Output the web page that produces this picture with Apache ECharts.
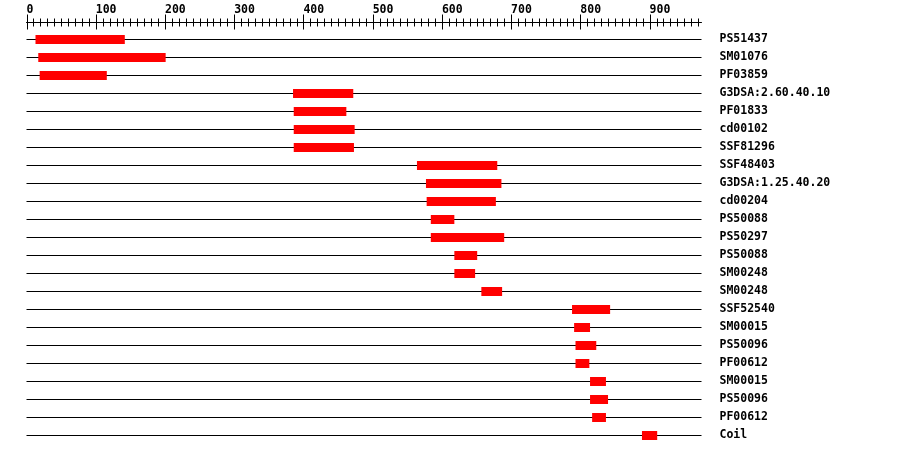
<!DOCTYPE html>
<html>
<head>
<meta charset="utf-8">
<script src="https://cdn.jsdelivr.net/npm/echarts@6/dist/echarts.min.js"></script>
<style>
html, body { margin: 0; padding: 0; background: #fff; }
#chart { width: 900px; height: 454px; }
</style>
</head>
<body>
<div id="chart"></div>
<script>
// sequence length (residues) and ruler labels
var proteinLength = 975;
var tickLabels = [0, 100, 200, 300, 400, 500, 600, 700, 800, 900];

// one row per domain hit
var names = [
  "PS51437", "SM01076", "PF03859", "G3DSA:2.60.40.10", "PF01833", "cd00102",
  "SSF81296", "SSF48403", "G3DSA:1.25.40.20", "cd00204", "PS50088", "PS50297",
  "PS50088", "SM00248", "SM00248", "SSF52540", "SM00015", "PS50096",
  "PF00612", "SM00015", "PS50096", "PF00612", "Coil"
];
var starts = [13, 17, 19, 385, 386, 386, 386, 564, 577, 578, 584, 584, 618, 618, 657, 788, 791, 793, 793, 814, 814, 817, 889];
var ends   = [142, 201, 116, 472, 462, 474, 473, 680, 686, 678, 618, 690, 651, 648, 687, 843, 814, 823, 813, 837, 840, 837, 911];

var chart = echarts.init(document.getElementById("chart"));

var rows = names.map(function (n, i) { return [i, starts[i], ends[i]]; });

// ruler ticks every 10
var rulerTicks = [];
for (var v = 0; v < proteinLength; v += 10) {
  rulerTicks.push([v, 0]);
}

var font = "'DejaVu Sans Mono', monospace";

var option = {
  animation: false,
  grid: { left: 26.5, right: 198.5, top: 30.5, bottom: 9.5 },
  xAxis: {
    type: "value",
    position: "top",
    offset: 8,
    min: 0,
    max: proteinLength,
    interval: 100,
    splitLine: { show: false },
    axisTick: { show: false },
    axisLine: { show: true, lineStyle: { color: "#000", width: 1 } },
    axisLabel: {
      show: true,
      margin: 6,
      align: "left",
      color: "#000",
      fontFamily: font,
      fontWeight: "bold",
      fontSize: 11.5,
      showMaxLabel: false,
      formatter: function (val) {
        return tickLabels.indexOf(val) >= 0 ? String(val) : "";
      }
    }
  },
  yAxis: {
    type: "category",
    data: names,
    inverse: true,
    position: "right",
    axisLine: { show: false },
    axisTick: { show: false },
    splitLine: { show: false },
    axisLabel: {
      margin: 18,
      align: "left",
      color: "#000",
      fontFamily: font,
      fontWeight: "bold",
      fontSize: 11.5
    }
  },
  series: [
    {
      type: "custom",
      data: rows,
      encode: { x: [1, 2], y: 0 },
      renderItem: function (params, api) {
        var i = api.value(0);
        var a = api.coord([0, i]);
        var b = api.coord([proteinLength, i]);
        var p0 = api.coord([api.value(1), i]);
        var p1 = api.coord([api.value(2), i]);
        var y = Math.floor(a[1]) + 0.5;
        return {
          type: "group",
          children: [
            {
              type: "line",
              shape: { x1: a[0], y1: y, x2: b[0], y2: y },
              style: { stroke: "#000", lineWidth: 1 }
            },
            {
              type: "rect",
              shape: { x: p0[0], y: y - 4.5, width: p1[0] - p0[0], height: 9 },
              style: { fill: "#ff0000" }
            }
          ]
        };
      }
    },
    {
      // ruler ticks crossing the top axis line
      type: "custom",
      data: rulerTicks,
      encode: { x: 0, y: 1 },
      renderItem: function (params, api) {
        var val = api.value(0);
        var x = Math.round(api.coord([val, 0])[0]) + 0.5;
        var axisY = params.coordSys.y - 8;
        var major = val % 100 === 0;
        var up = major ? 8 : 4;
        var down = major ? 7 : 4;
        return {
          type: "line",
          shape: { x1: x, y1: axisY - up, x2: x, y2: axisY + down },
          style: { stroke: "#000", lineWidth: 1 }
        };
      }
    }
  ]
};

chart.setOption(option);
</script>
</body>
</html>
